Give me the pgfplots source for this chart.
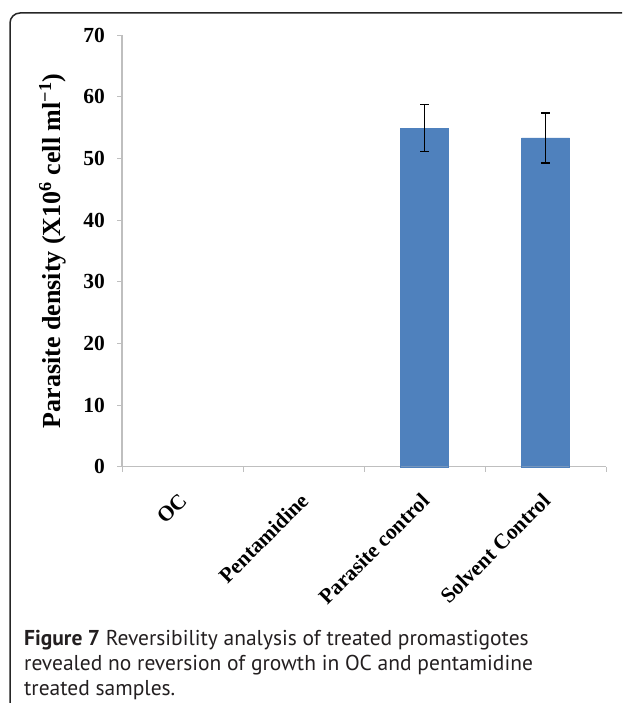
\documentclass[border=0pt]{standalone}
\usepackage{fontspec}
\setmainfont{Liberation Serif}
\newfontfamily\capfont{PT Sans}
\usepackage{pgfplots}
\pgfplotsset{compat=1.18}
\definecolor{barblue}{RGB}{79,129,189}
\definecolor{axgray}{RGB}{191,191,191}
\definecolor{captxt}{RGB}{35,31,32}
\begin{document}
\begin{tikzpicture}[x=1pt,y=1pt]
\path[use as bounding box] (0,0) rectangle (622,-703);
\draw[line width=1.5pt, black!85, rounded corners=10pt] (10,-703) -- (10,-13) -- (622,-13);
\begin{axis}[
  at={(122pt,-466.7pt)}, anchor=south west,
  scale only axis, width=484pt, height=431.7pt,
  xmin=-0.5, xmax=3.5, ymin=0, ymax=70,
  axis lines=left,
  axis line style={-, draw=axgray, line width=1.5pt},
  tick align=outside,
  major tick length=5pt,
  tick style={draw=axgray, line width=1pt},
  xtick={-0.5,0.5,1.5,2.5,3.5},
  x tick label as interval,
  xticklabels={OC,Pentamidine,Parasite control,Solvent Control},
  ytick={0,10,...,70},
  /pgf/number format/assume math mode=true,
  yticklabel style={font=\fontsize{21.5}{24}\selectfont\bfseries, inner sep=0pt, anchor=east, xshift=-12pt},
  xticklabel style={font=\fontsize{21.5}{24}\selectfont\bfseries, inner sep=0pt, anchor=north east, xshift=-4.5pt, yshift=-20pt, rotate=45},
  ylabel={Parasite density (X10\textsuperscript{6} cell ml\textsuperscript{−1})},
  every axis y label/.style={at={(axis description cs:-0.128,0.5)}, rotate=90, anchor=base, font=\fontsize{26}{30}\selectfont\bfseries},
  clip=false,
]
% OC = 0 and Pentamidine = 0 (no bars)
\addplot[ybar, bar width=48pt, fill=barblue, draw=barblue, line width=0.4pt,
  error bars/.cd, y dir=both, y explicit,
  error bar style={black, line width=1.4pt},
  error mark options={rotate=90, mark size=4.3pt, line width=1.4pt, black}]
  table[x=x, y=y, y error=e] {
x y e
2 54.9 3.8
3 53.3 4.05
};
\end{axis}
\node[anchor=base west, font=\fontsize{21.5}{24}\selectfont\capfont, text=captxt, inner sep=0pt] at (24,-645) {\textbf{Figure 7} Reversibility analysis of treated promastigotes};
\node[anchor=base west, font=\fontsize{21.5}{24}\selectfont\capfont, text=captxt, inner sep=0pt] at (24,-670) {revealed no reversion of growth in OC and pentamidine};
\node[anchor=base west, font=\fontsize{21.5}{24}\selectfont\capfont, text=captxt, inner sep=0pt] at (24,-695) {treated samples.};
\end{tikzpicture}
\end{document}
